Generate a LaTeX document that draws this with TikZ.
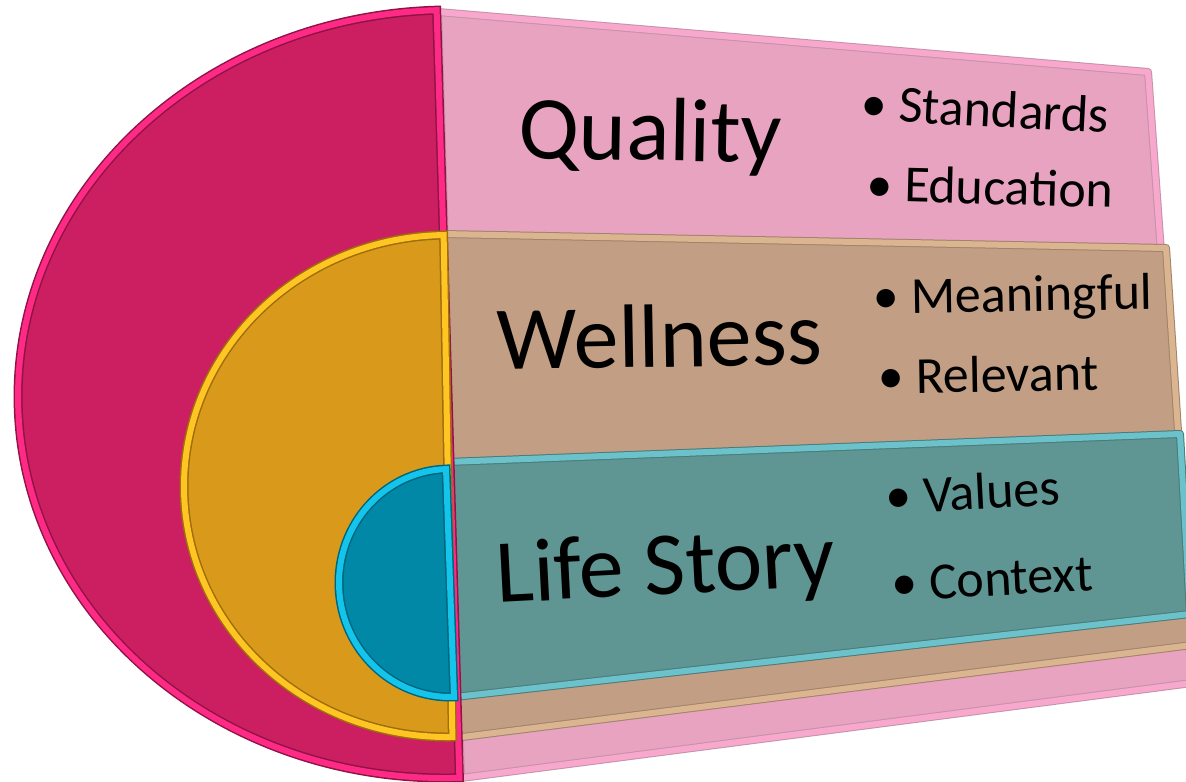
\documentclass[tikz,border=0pt]{standalone}
\usepackage{fontspec}
\setmainfont{Carlito}
\usetikzlibrary{calc}

\definecolor{PinkMain}{HTML}{CB1F62}
\definecolor{PinkRim}{HTML}{FF2A85}
\definecolor{PinkDark}{HTML}{8F1444}
\definecolor{GoldMain}{HTML}{D99A1C}
\definecolor{GoldRim}{HTML}{FFC523}
\definecolor{GoldDark}{HTML}{9E6D0C}
\definecolor{CyanMain}{HTML}{0088A6}
\definecolor{CyanRim}{HTML}{14C4EA}
\definecolor{CyanDark}{HTML}{00667D}
\definecolor{QualityFill}{HTML}{E8A3C0}
\definecolor{QualityRim}{HTML}{F8A8CD}
\definecolor{QualityEdge}{HTML}{C493A8}
\definecolor{WellnessFill}{HTML}{C29F84}
\definecolor{WellnessRim}{HTML}{DAB58F}
\definecolor{WellnessEdge}{HTML}{A0836D}
\definecolor{StoryFill}{HTML}{5F9593}
\definecolor{StoryRim}{HTML}{6CC2CA}
\definecolor{StoryEdge}{HTML}{4B7A78}

\begin{document}
\begin{tikzpicture}[
    x=0.5pt, y=-0.5pt,
    disc/.style={line width=0.75, double distance=3},
    panel/.style={line width=0.5, double distance=3, line join=round},
    heading/.style={font=\fontsize{45}{45}\selectfont, anchor=base west, inner sep=0},
    item/.style={font=\fontsize{26}{26}\selectfont, anchor=base west, inner sep=0}
]
\useasboundingbox (0,0) rectangle (1186,781);
\fill[white] (0,0) rectangle (1186,781);

% panels, back to front
\filldraw[panel, fill=QualityFill, draw=QualityEdge, double=QualityRim]
  (438,12) -- (1148,72) -- (1192,683) -- (461,778) -- cycle;
\filldraw[panel, fill=WellnessFill, draw=WellnessEdge, double=WellnessRim]
  (443,234) -- (1166,248) -- (1192,645) -- (454,738) -- cycle;
\filldraw[panel, fill=StoryFill, draw=StoryEdge, double=StoryRim]
  (447,462) -- (1180,434) -- (1190,614) -- (455,697) -- cycle;

% half discs
\filldraw[disc, fill=PinkMain, draw=PinkDark, double=PinkRim,
    rotate around={1.7:(448,394)}]
  (448,10) arc[start angle=270, end angle=90, x radius=430, y radius=384] -- cycle;
\filldraw[disc, fill=GoldMain, draw=GoldDark, double=GoldRim,
    rotate around={1:(448,486)}]
  (448,235) arc[start angle=270, end angle=90, x radius=264, y radius=251] -- cycle;
\filldraw[disc, fill=CyanMain, draw=CyanDark, double=CyanRim,
    rotate around={2:(450,583)}]
  (450,469) arc[start angle=270, end angle=90, x radius=111, y radius=114] -- cycle;

% texts
\node (Quality) [heading, rotate=-1] at (518,158) {Quality};
\node (Standards) [item, rotate=-3] at (860,120) {\textbullet\ Standards};
\node (Education) [item, rotate=-1.5] at (866,201) {\textbullet\ Education};

\node (Wellness) [heading, rotate=1] at (497,370) {Wellness};
\node (Meaningful) [item, rotate=1] at (873,314) {\textbullet\ Meaningful};
\node (Relevant) [item, rotate=1] at (878,394) {\textbullet\ Relevant};

\node (LifeStory) [heading, rotate=3] at (497,603) {Life Story};
\node (Values) [item, rotate=3] at (886,514) {\textbullet\ Values};
\node (Context) [item, rotate=3] at (892,601) {\textbullet\ Context};
\end{tikzpicture}
\end{document}
